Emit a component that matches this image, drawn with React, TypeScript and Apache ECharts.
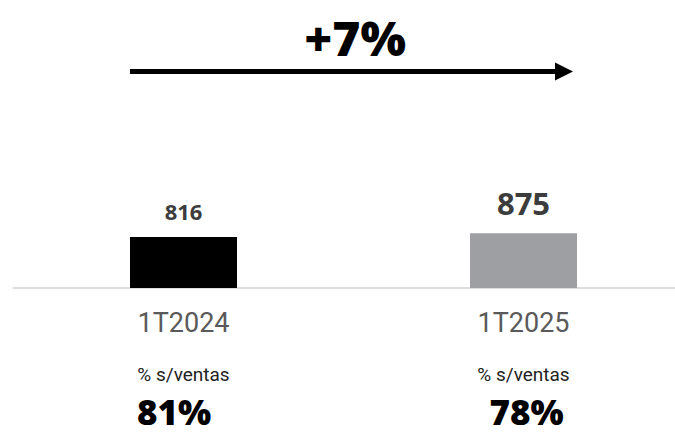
import React, { useEffect, useRef } from "react";
import * as echarts from "echarts";

const categories = ["1T2024", "1T2025"];
const values = [816, 875];
const subLabels = ["% s/ventas", "% s/ventas"];
const pctLabels = ["81%", "78%"];
const growthLabel = "+7%";

const barColors = ["#000000", "#9d9fa3"];
const labelSizes = [22, 31];
const pctPadding = [
  [0, 19, 0, 0],
  [0, 0, 0, 6],
];

export default function App() {
  const ref = useRef<HTMLDivElement>(null);
  useEffect(() => {
    if (!ref.current) return;
    const chart = echarts.init(ref.current, undefined, { renderer: "svg" });
    const font = "'Noto Sans', Roboto, sans-serif";
    const option: any = {
      animation: false,
      backgroundColor: "#ffffff",
      grid: {
        left: 13.5,
        width: 680,
        top: 225.5,
        bottom: 145,
        containLabel: false,
        outerBoundsMode: "none",
      },
      xAxis: [
        {
          type: "category",
          data: categories,
          position: "bottom",
          axisLine: { show: true, lineStyle: { color: "#dcdcdc", width: 2 } },
          axisTick: { show: false },
          axisLabel: {
            margin: 21,
            fontSize: 27,
            color: "#5a5a5a",
            fontFamily: "Roboto, sans-serif",
            fontWeight: "normal",
          },
        },
        {
          type: "category",
          data: subLabels,
          position: "bottom",
          axisLine: { show: false },
          axisTick: { show: false },
          axisLabel: {
            margin: 77,
            fontSize: 19,
            color: "#222222",
            fontFamily: "Roboto, sans-serif",
            interval: 0,
          },
        },
        {
          type: "category",
          data: pctLabels.map((p, i) => ({
            value: p,
            textStyle: { padding: pctPadding[i] },
          })),
          position: "bottom",
          axisLine: { show: false },
          axisTick: { show: false },
          axisLabel: {
            margin: 108,
            fontSize: 35,
            lineHeight: 30,
            fontWeight: 900,
            color: "#000000",
            fontFamily: font,
            interval: 0,
          },
        },
      ],
      yAxis: { type: "value", min: 0, max: 1000, show: false, splitLine: { show: false } },
      series: [
        {
          type: "bar",
          xAxisIndex: 0,
          barWidth: 107,
          data: values.map((v, i) => ({
            value: v,
            itemStyle: { color: barColors[i] },
            label: { fontSize: labelSizes[i] },
          })),
          label: {
            show: true,
            position: "top",
            distance: 15,
            fontWeight: "bold",
            color: "#3c3c3c",
            fontFamily: font,
          },
        },
      ],
      graphic: [
        {
          type: "text",
          x: 355,
          y: 37,
          style: {
            text: growthLabel,
            align: "center",
            verticalAlign: "middle",
            font: `900 48px ${font}`,
            fill: "#000000",
          },
        },
        {
          type: "line",
          shape: { x1: 130, y1: 71.5, x2: 557, y2: 71.5 },
          style: { stroke: "#000000", lineWidth: 5 },
        },
        {
          type: "polygon",
          shape: { points: [[555, 62.5], [573, 71.5], [555, 80.5]] },
          style: { fill: "#000000" },
        },
      ],
    };
    chart.setOption(option);
    return () => chart.dispose();
  }, []);
  return (
    <div
      ref={ref}
      style={{ position: "absolute", left: 0, top: 0, width: 675, height: 433 }}
    />
  );
}
